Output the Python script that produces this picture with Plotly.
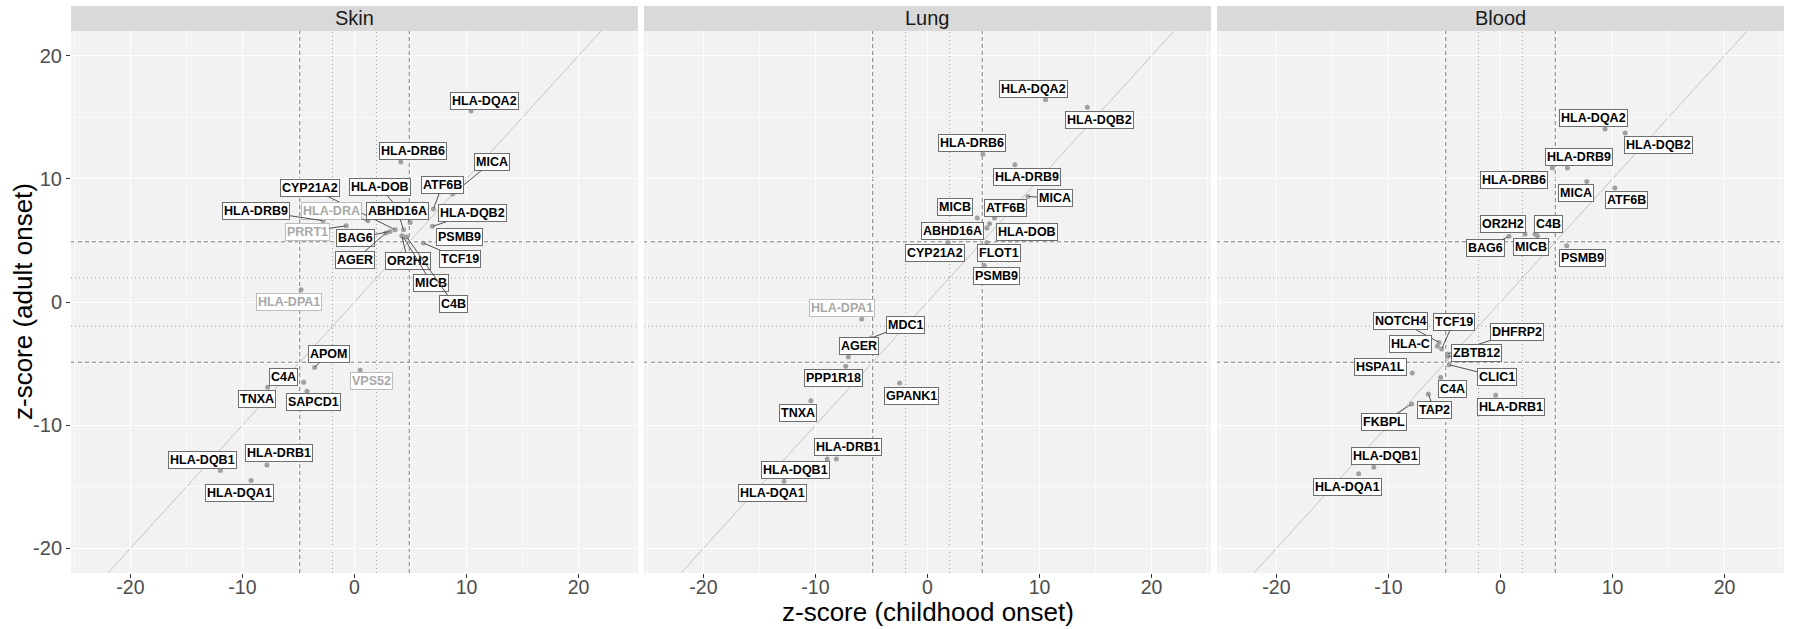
import plotly.graph_objects as go

# ---------------- data ----------------
panels = ["Skin", "Lung", "Blood"]

skin_genes = ["HLA-DQA2", "HLA-DRB6", "MICA", "ATF6B", "HLA-DQB2", "CYP21A2", "HLA-DOB",
              "ABHD16A", "HLA-DRA", "HLA-DRB9", "PRRT1", "BAG6", "AGER", "OR2H2", "MICB",
              "C4B", "TCF19", "PSMB9", "HLA-DPA1", "APOM", "VPS52", "C4A", "SAPCD1", "TNXA",
              "HLA-DRB1", "HLA-DQB1", "HLA-DQA1"]
skin_child = [10.4, 4.13, 8.77, 7.04, 6.95, 3.63, 4.96,
              4.37, 1.19, -2.8, -0.74, 3.18, 2.8, 4.22, 4.37,
              4.67, 6.15, 7.6, -4.77, -3.56, 0.51, -4.54, -4.24, -7.75,
              -7.81, -11.97, -9.23]
skin_adult = [15.5, 11.36, 8.77, 7.55, 6.14, 5.87, 6.46,
              5.87, 6.6, 6.6, 6.19, 5.73, 5.6, 5.38, 5.27,
              5.27, 4.79, 5.3, 1.0, -5.31, -5.55, -6.52, -7.25, -6.93,
              -13.23, -13.67, -14.5]
skin_sig = [1, 1, 1, 1, 1, 1, 1,
            1, 0, 1, 0, 1, 1, 1, 1,
            1, 1, 1, 0, 1, 0, 1, 1, 1,
            1, 1, 1]

lung_genes = ["HLA-DQA2", "HLA-DQB2", "HLA-DRB6", "HLA-DRB9", "MICA", "MICB", "ATF6B",
              "ABHD16A", "HLA-DOB", "FLOT1", "CYP21A2", "PSMB9", "HLA-DPA1", "MDC1", "AGER",
              "PPP1R18", "GPANK1", "TNXA", "HLA-DRB1", "HLA-DQB1", "HLA-DQA1"]
lung_child = [10.54, 14.26, 4.94, 7.8, 8.96, 4.44, 5.98,
              5.3, 5.54, 5.3, 1.83, 5.06, -5.87, -5.02, -7.06,
              -7.3, -2.49, -10.41, -8.13, -8.95, -12.8]
lung_adult = [16.42, 15.8, 12.0, 11.14, 8.57, 6.82, 6.82,
              6.0, 6.36, 4.84, 4.84, 2.97, -1.38, -2.92, -4.46,
              -5.22, -6.57, -8.01, -12.74, -12.74, -14.56]
lung_sig = [1, 1, 1, 1, 1, 1, 1,
            1, 1, 1, 1, 1, 0, 1, 1,
            1, 1, 1, 1, 1, 1]

blood_genes = ["HLA-DQA2", "HLA-DQB2", "HLA-DRB9", "HLA-DRB6", "MICA", "ATF6B", "OR2H2",
               "C4B", "MICB", "BAG6", "PSMB9", "NOTCH4", "TCF19", "HLA-C", "DHFRP2",
               "ZBTB12", "CLIC1", "HSPA1L", "C4A", "TAP2", "FKBPL", "HLA-DRB1", "HLA-DQB1",
               "HLA-DQA1"]
blood_child = [9.33, 11.12, 5.97, 4.63, 7.7, 10.2, 2.19,
               3.29, 3.08, 0.76, 5.91, -5.49, -5.25, -5.63, -4.74,
               -4.74, -4.6, -7.87, -5.34, -6.44, -7.93, -0.43, -11.31,
               -12.66]
blood_adult = [14.04, 13.72, 10.88, 10.88, 9.79, 9.25, 5.52,
               5.38, 5.52, 5.33, 4.57, -3.28, -3.81, -3.6, -4.22,
               -4.42, -5.09, -5.76, -6.12, -7.47, -8.28, -7.58, -13.42,
               -13.94]
blood_sig = [1] * len(blood_genes)

x_ticks = [-20, -10, 0, 10, 20]
x_tick_labels = ["-20", "-10", "0", "10", "20"]
y_ticks = [-20, -10, 0, 10, 20]
y_tick_labels = ["-20", "-10", "0", "10", "20"]

z_dotted = 1.96   # nominal threshold
z_dashed = 4.89   # genome-wide threshold

# ---------------- label placement (pixel offsets of label centre, segment flag) ----------------
label_layout = {
    "Skin": {
        "HLA-DQA2": (13, -10, 0), "HLA-DRB6": (12, -11, 0), "MICA": (39, -32, 1),
        "ATF6B": (9, -24, 1), "HLA-DQB2": (40, -13, 1), "CYP21A2": (-85, -42, 1),
        "HLA-DOB": (-30, -35, 1), "ABHD16A": (-6, -19, 1), "HLA-DRA": (-36, -10, 1),
        "HLA-DRB9": (-67, -10, 1), "PRRT1": (-39, 6, 1), "BAG6": (-35, 7, 1),
        "AGER": (-31, 27, 1), "OR2H2": (6, 25, 1), "MICB": (28, 46, 1),
        "C4B": (47, 67, 1), "TCF19": (37, 16, 1), "PSMB9": (20, 0, 0),
        "HLA-DPA1": (-12, 12, 0), "APOM": (14, -13, 1), "VPS52": (11, 11, 0),
        "C4A": (-20, -5, 0), "SAPCD1": (7, 11, 0), "TNXA": (-11, 12, 0),
        "HLA-DRB1": (12, -12, 0), "HLA-DQB1": (-18, -10, 0), "HLA-DQA1": (-12, 12, 0),
    },
    "Lung": {
        "HLA-DQA2": (-12, -11, 0), "HLA-DQB2": (12, 13, 0), "HLA-DRB6": (-11, -11, 0),
        "HLA-DRB9": (12, 12, 0), "MICA": (27, 2, 1), "MICB": (-22, -11, 0),
        "ATF6B": (11, -10, 0), "ABHD16A": (-34, 3, 0), "HLA-DOB": (37, 8, 0),
        "FLOT1": (12, 11, 0), "CYP21A2": (-13, 11, 0), "PSMB9": (12, 11, 0),
        "HLA-DPA1": (-20, -11, 0), "MDC1": (34, -13, 1), "AGER": (11, -11, 0),
        "PPP1R18": (-12, 12, 0), "GPANK1": (12, 13, 0), "TNXA": (-13, 12, 0),
        "HLA-DRB1": (12, -12, 0), "HLA-DQB1": (-32, 11, 0), "HLA-DQA1": (-12, 12, 0),
    },
    "Blood": {
        "HLA-DQA2": (-12, -11, 0), "HLA-DQB2": (33, 12, 0), "HLA-DRB9": (12, -11, 0),
        "HLA-DRB6": (-38, 12, 0), "MICA": (-11, 12, 0), "ATF6B": (12, 12, 0),
        "OR2H2": (-22, -10, 0), "C4B": (11, -12, 0), "MICB": (-4, 13, 0),
        "BAG6": (-24, 12, 1), "PSMB9": (16, 12, 0), "NOTCH4": (-38, -21, 1),
        "TCF19": (12, -27, 1), "HLA-C": (-27, -2, 0), "DHFRP2": (70, -22, 1),
        "ZBTB12": (29, -3, 1), "CLIC1": (48, 12, 1), "HSPA1L": (-32, -6, 0),
        "C4A": (12, 12, 0), "TAP2": (6, 16, 1), "FKBPL": (-28, 18, 1),
        "HLA-DRB1": (15, 12, 0), "HLA-DQB1": (12, -11, 0), "HLA-DQA1": (-11, 13, 0),
    },
}

data = {
    "Skin": (skin_genes, skin_child, skin_adult, skin_sig),
    "Lung": (lung_genes, lung_child, lung_adult, lung_sig),
    "Blood": (blood_genes, blood_child, blood_adult, blood_sig),
}

# ---------------- layout geometry ----------------
W, H = 1794, 629
ML, MR, MT, MB = 71, 10, 31, 56
plot_w = W - ML - MR
plot_h = H - MT - MB
gap = 6.0
pw = (plot_w - 2 * gap) / 3
domains = []
for i in range(3):
    a = i * (pw + gap) / plot_w
    domains.append([a, a + pw / plot_w])

XR = [-25.3, 25.3]
YR = [-22.0, 22.0]

PANEL_BG = "#F2F2F2"
STRIP_BG = "#D9D9D9"
FONT = "Liberation Sans, Arial, sans-serif"

fig = go.Figure()
layout_axes = {}
shapes = []
annotations = []

for i, p in enumerate(panels):
    genes, cx, ay_, sig = data[p]
    xa = "x" if i == 0 else f"x{i+1}"
    ya = "y" if i == 0 else f"y{i+1}"
    xkey = "xaxis" if i == 0 else f"xaxis{i+1}"
    ykey = "yaxis" if i == 0 else f"yaxis{i+1}"

    layout_axes[xkey] = dict(
        domain=domains[i], range=XR, anchor=ya,
        tickmode="array", tickvals=x_ticks, ticktext=x_tick_labels,
        showgrid=True, gridcolor="#FFFFFF", gridwidth=1.2,
        minor=dict(tickmode="array", tickvals=[-25, -15, -5, 5, 15, 25],
                   showgrid=True, gridcolor="#FAFAFA", gridwidth=0.6, ticks=""),
        zeroline=False, showline=False,
        ticks="outside", ticklen=4, tickcolor="#333333", tickwidth=1,
        ticklabelstandoff=-7,
        tickfont=dict(family=FONT, size=19.5, color="#4D4D4D"),
        fixedrange=True,
    )
    layout_axes[ykey] = dict(
        domain=[0, 1], range=YR, anchor=xa,
        tickmode="array", tickvals=y_ticks, ticktext=y_tick_labels,
        showticklabels=(i == 0),
        showgrid=True, gridcolor="#FFFFFF", gridwidth=1.2,
        minor=dict(tickmode="array", tickvals=[-15, -5, 5, 15],
                   showgrid=True, gridcolor="#FAFAFA", gridwidth=0.6, ticks=""),
        zeroline=False, showline=False,
        ticks="outside" if i == 0 else "", ticklen=4, tickcolor="#333333", tickwidth=1,
        tickfont=dict(family=FONT, size=20, color="#4D4D4D"),
        fixedrange=True,
    )

    # threshold lines (data coordinates, spanning the axis ranges)
    for v, kind in [(-z_dashed, "dash"), (z_dashed, "dash"), (-z_dotted, "dot"), (z_dotted, "dot")]:
        lc = "#808080" if kind == "dash" else "#A0A0A0"
        ld = "4px,3px" if kind == "dash" else "1px,3px"
        shapes.append(dict(type="line", xref=xa, yref=ya, x0=v, x1=v, y0=YR[0], y1=YR[1],
                           layer="below", line=dict(color=lc, width=1, dash=ld)))
        shapes.append(dict(type="line", xref=xa, yref=ya, x0=XR[0], x1=XR[1], y0=v, y1=v,
                           layer="below", line=dict(color=lc, width=1, dash=ld)))
    # identity line
    shapes.append(dict(type="line", xref=xa, yref=ya, x0=YR[0], y0=YR[0], x1=YR[1], y1=YR[1],
                       layer="below", line=dict(color="#C4C4C4", width=1)))

    # strip
    shapes.append(dict(type="rect", xref="paper", yref="paper",
                       x0=domains[i][0], x1=domains[i][1], y0=1.0, y1=1.0 + 25 / plot_h,
                       fillcolor=STRIP_BG, line=dict(width=0), layer="above"))
    annotations.append(dict(xref="paper", yref="paper", x=(domains[i][0] + domains[i][1]) / 2,
                            y=1.0 + 12.5 / plot_h, text=p, showarrow=False,
                            xanchor="center", yanchor="middle",
                            font=dict(family=FONT, size=20, color="#1A1A1A")))

    # points
    fig.add_trace(go.Scatter(x=cx, y=ay_, mode="markers", xaxis=xa, yaxis=ya,
                             marker=dict(size=5, color="#A0A0A0"), showlegend=False,
                             hoverinfo="skip"))

    # labels
    for g, xv, yv, s in zip(genes, cx, ay_, sig):
        dx, dy, seg = label_layout[p][g]
        tcol = "#000000" if s else "#A8A8A8"
        bcol = "#6E6E6E" if s else "#BDBDBD"
        common = dict(xref=xa, yref=ya, x=xv, y=yv, text=f"<b>{g}</b>",
                      font=dict(family=FONT, size=12.5, color=tcol),
                      bgcolor="#FFFFFF", bordercolor=bcol, borderwidth=1, borderpad=1)
        if seg:
            annotations.append(dict(**common, showarrow=True, ax=dx, ay=dy, axref="pixel",
                                    ayref="pixel", arrowhead=0, arrowwidth=1,
                                    arrowcolor="#505050", standoff=1))
        else:
            annotations.append(dict(**common, showarrow=False, xshift=dx, yshift=-dy,
                                    xanchor="center", yanchor="middle"))

# axis titles
annotations.append(dict(xref="paper", yref="paper", x=0.5, y=-39 / plot_h,
                        text="z-score (childhood onset)", showarrow=False,
                        xanchor="center", yanchor="middle",
                        font=dict(family=FONT, size=26, color="#000000")))
annotations.append(dict(xref="paper", yref="paper", x=-48 / plot_w, y=0.5,
                        text="z-score (adult onset)", showarrow=False, textangle=-90,
                        xanchor="center", yanchor="middle",
                        font=dict(family=FONT, size=26, color="#000000")))

fig.update_layout(
    width=W, height=H,
    margin=dict(l=ML, r=MR, t=MT, b=MB, autoexpand=False),
    paper_bgcolor="#FFFFFF", plot_bgcolor=PANEL_BG,
    shapes=shapes, annotations=annotations,
    showlegend=False,
    **layout_axes,
)

fig.write_html("out.html", config={"displayModeBar": False},
               post_script="document.body.style.margin='0';"
                           "document.body.style.overflow='hidden';")
